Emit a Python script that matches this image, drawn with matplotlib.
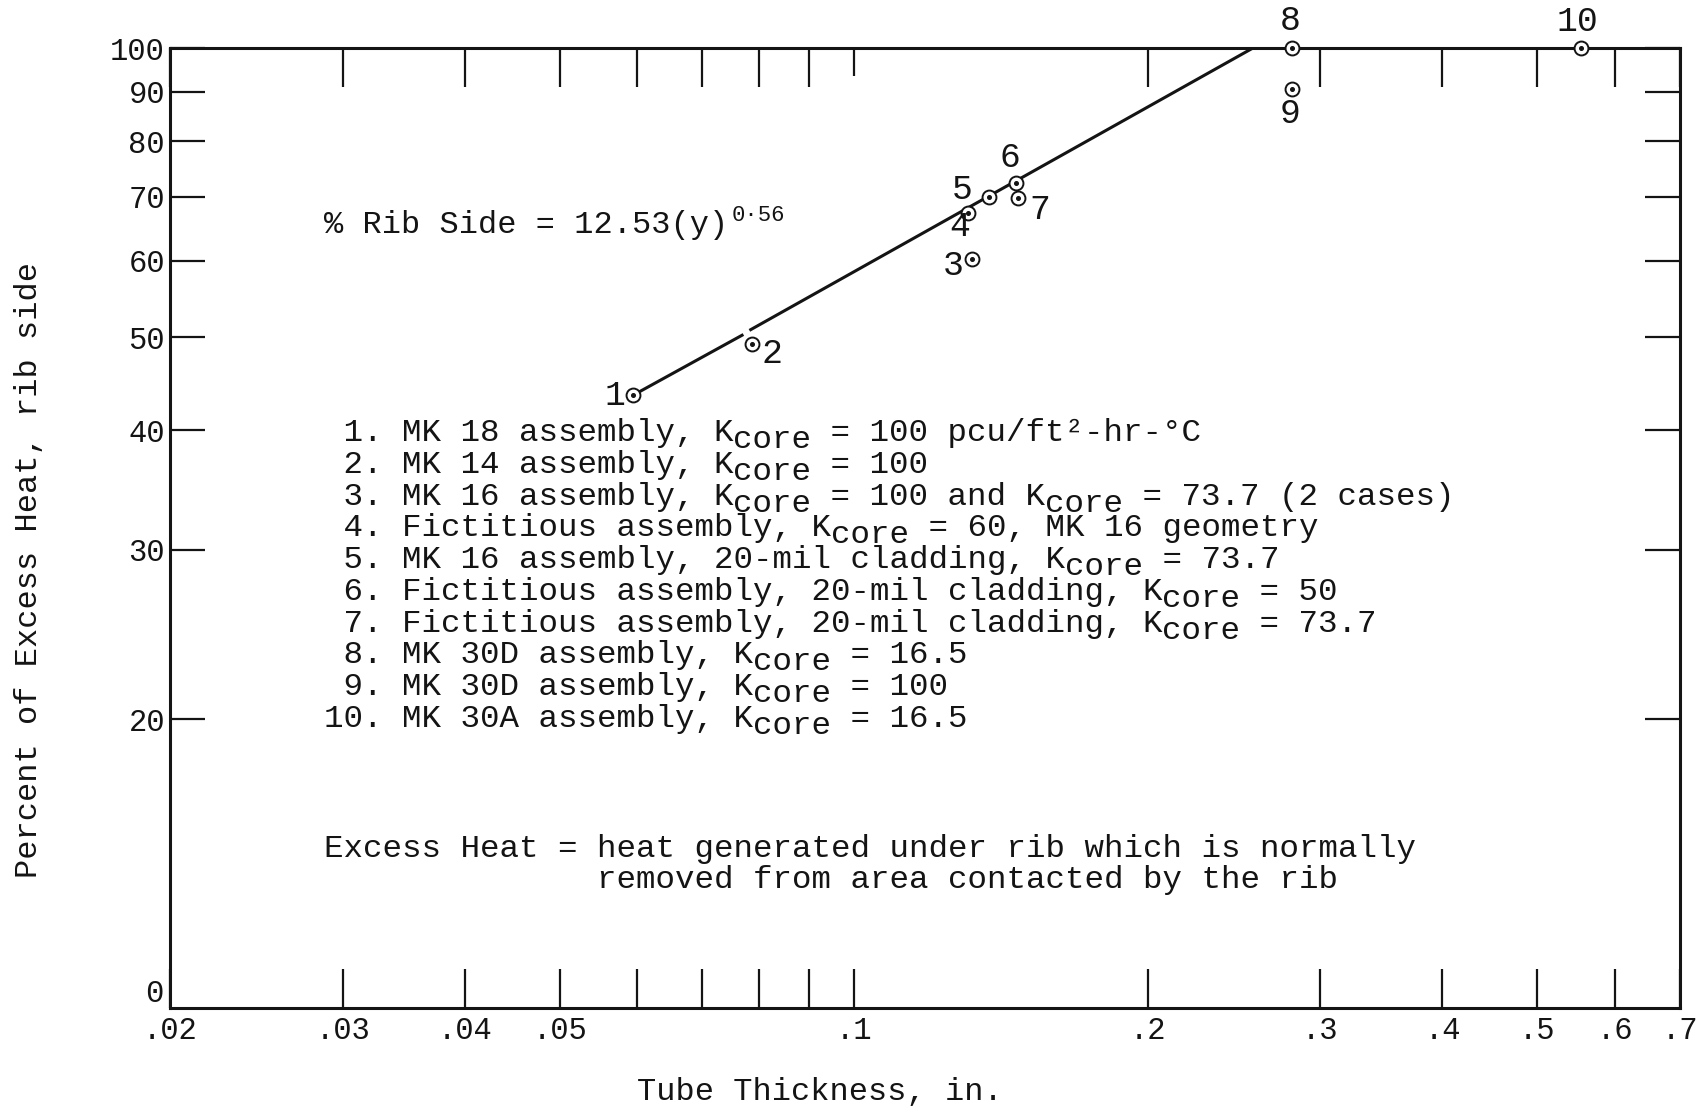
import re
import matplotlib
matplotlib.use("Agg")
import matplotlib.pyplot as plt
from matplotlib.ticker import FixedLocator, FixedFormatter, NullLocator

# ---------------- data ----------------
point_ids = ["1", "2", "3", "4", "5", "6", "7", "8", "9", "10"]
thickness = [0.0595, 0.0786, 0.132, 0.1308, 0.1376, 0.1464, 0.1472, 0.281, 0.281, 0.554]
pct_rib = [43.5, 49.2, 60.3, 67.3, 70.0, 72.4, 69.8, 100.0, 90.6, 100.0]

# correlation line (drawn in two pieces, there is a small break near point 2)
fit_x_a = [0.0595, 0.0771]
fit_y_a = [43.5, 50.3]
fit_x_b = [0.0782, 0.256]
fit_y_b = [50.8, 100.0]

x_major = [0.02, 0.03, 0.04, 0.05, 0.1, 0.2, 0.3, 0.4, 0.5, 0.6, 0.7]
x_major_labels = [".02", ".03", ".04", ".05", ".1", ".2", ".3", ".4", ".5", ".6", ".7"]
x_minor = [0.06, 0.07, 0.08, 0.09]
y_major = [20, 30, 40, 50, 60, 70, 80, 90, 100]
y_major_labels = ["20", "30", "40", "50", "60", "70", "80", "90", "100"]

equation = "% Rib Side = 12.53(y)"
equation_exp = "0·56"

legend_items = [
    "MK 18 assembly, K_{core} = 100 pcu/ft²-hr-°C",
    "MK 14 assembly, K_{core} = 100",
    "MK 16 assembly, K_{core} = 100 and K_{core} = 73.7 (2 cases)",
    "Fictitious assembly, K_{core} = 60, MK 16 geometry",
    "MK 16 assembly, 20-mil cladding, K_{core} = 73.7",
    "Fictitious assembly, 20-mil cladding, K_{core} = 50",
    "Fictitious assembly, 20-mil cladding, K_{core} = 73.7",
    "MK 30D assembly, K_{core} = 16.5",
    "MK 30D assembly, K_{core} = 100",
    "MK 30A assembly, K_{core} = 16.5",
]
note_lines = [
    "Excess Heat = heat generated under rib which is normally",
    "              removed from area contacted by the rib",
]
x_title = "Tube Thickness, in."
y_title = "Percent of Excess Heat, rib side"

# ---------------- styling ----------------
MONO = "Liberation Mono"
INK = "#141414"
FS = 23
FS_LIST = 23.4

plt.rcParams["font.family"] = [MONO, "DejaVu Sans Mono", "DejaVu Sans"]

fig = plt.figure(figsize=(17.03, 11.17), dpi=100)
ax = fig.add_axes([0.1001, 0.0976, 0.8864, 0.8594])
ax.set_xscale("log")
ax.set_yscale("log")
ax.set_xlim(0.02, 0.7)
ax.set_ylim(10, 100)

for sp in ax.spines.values():
    sp.set_linewidth(2.2)
    sp.set_color(INK)

ax.xaxis.set_major_locator(FixedLocator(x_major))
ax.xaxis.set_major_formatter(FixedFormatter(x_major_labels))
ax.xaxis.set_minor_locator(FixedLocator(x_minor))
ax.yaxis.set_major_locator(FixedLocator(y_major))
ax.yaxis.set_major_formatter(FixedFormatter(y_major_labels))
ax.yaxis.set_minor_locator(NullLocator())

ax.tick_params(axis="x", which="both", direction="in", top=True, bottom=True,
               length=28, width=1.6, color=INK, labelsize=FS - 1, pad=6,
               labelcolor=INK)
ax.tick_params(axis="x", which="minor", labelbottom=False)
ax.tick_params(axis="y", which="both", direction="in", left=True, right=True,
               length=25, width=1.6, color=INK, labelsize=FS - 1, pad=4,
               labelcolor=INK)

# the top tick at .1 is shorter in the original
for val, tk in zip(x_major, ax.xaxis.get_major_ticks()):
    if val == 0.1:
        tk.tick2line.set_markersize(20)

# "0" label near the bottom of the y axis
ax.annotate("0", xy=(0, 10.34), xycoords=("axes fraction", "data"),
            xytext=(-5, 0), textcoords="offset points", ha="right",
            va="center", fontsize=FS - 1, color=INK, annotation_clip=False)

# ---------------- marks ----------------
ax.plot(fit_x_a, fit_y_a, color=INK, lw=2.2, solid_capstyle="butt", zorder=2)
ax.plot(fit_x_b, fit_y_b, color=INK, lw=2.2, solid_capstyle="butt", zorder=2)

ax.plot(thickness, pct_rib, linestyle="none", marker="o", ms=10,
        mfc="white", mec=INK, mew=1.4, zorder=3, clip_on=False)
ax.plot(thickness, pct_rib, linestyle="none", marker="o", ms=2.6,
        mfc=INK, mec=INK, zorder=4, clip_on=False)

label_offsets = [(-13.3, 0), (14.9, -7.0), (-13.3, -4.7), (-5.5, -9.4),
                 (-19.5, 5.5), (-3.9, 18.0), (15.6, -8.6), (-1.6, 19.5),
                 (-1.6, -17.2), (-2.3, 18.8)]
for pid, xv, yv, off in zip(point_ids, thickness, pct_rib, label_offsets):
    ax.annotate(pid, xy=(xv, yv), xytext=off, textcoords="offset points",
                ha="center", va="center", fontsize=FS + 2, color=INK,
                annotation_clip=False)


# ---------------- typewriter text helper ----------------
def typed(x, y, text, size=FS, sub_shift=-5.0):
    """Place monospaced text with K_{sub} style lowered segments."""
    parts = re.split(r"(_\{[^}]*\})", text)
    col = 0.0
    for part in parts:
        if not part:
            continue
        dy = 0.0
        if part.startswith("_{"):
            part = part[2:-1]
            dy = sub_shift
        ax.annotate(part, xy=(x, y), xycoords="axes fraction",
                    xytext=(col, dy), textcoords="offset points",
                    fontsize=size, color=INK, ha="left", va="baseline",
                    annotation_clip=False)
        col += 0.6 * size * len(part)
    return col


# equation
c = typed(0.1015, 0.8068, equation)
ax.annotate(equation_exp, xy=(0.1015, 0.8068), xycoords="axes fraction",
            xytext=(c + 4, 9), textcoords="offset points", fontsize=16,
            color=INK, ha="left", va="baseline", annotation_clip=False)

# numbered list
for i, item in enumerate(legend_items):
    typed(0.1015, 0.5906 - 0.0331 * i, "%2d. %s" % (i + 1, item), size=FS_LIST)

# note
for i, line in enumerate(note_lines):
    typed(0.1015, 0.1573 - 0.0327 * i, line, size=FS_LIST)

# axis titles
fig.text(0.4815, 0.0228, x_title, ha="center", va="center", fontsize=FS,
         color=INK)
fig.text(0.0172, 0.4897, y_title, ha="center", va="center", fontsize=FS,
         color=INK, rotation=90)

fig.savefig("out.png", dpi=100, facecolor="white")
